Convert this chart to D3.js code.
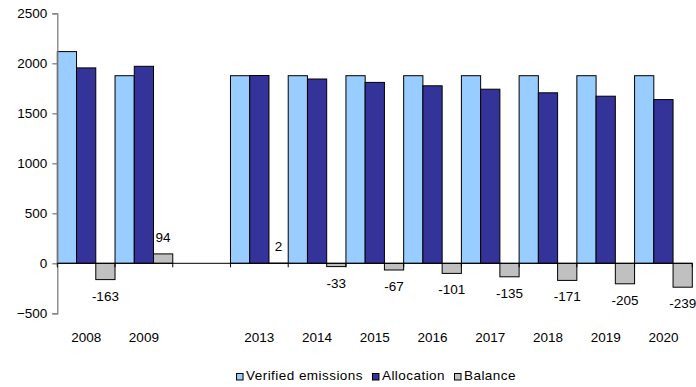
<!DOCTYPE html>
<html>
<head>
<meta charset="utf-8">
<script src="https://cdn.jsdelivr.net/npm/d3@7"></script>
<style>
  html, body { margin: 0; padding: 0; background: #fff; }
  svg { display: block; }
  text { font-family: "Liberation Sans", Arial, sans-serif; font-size: 13.5px; fill: #000; }
  .legend text { letter-spacing: 0.45px; }
</style>
</head>
<body>
<svg id="chart" width="696" height="387"></svg>
<script>
// Categories (blank slot marks the 2010-2012 gap)
const years = ["2008", "2009", "", "2013", "2014", "2015", "2016", "2017", "2018", "2019", "2020"];
const verifiedEmissions = [2117, 1876, null, 1876, 1876, 1876, 1876, 1876, 1876, 1876, 1876];
const allocation        = [1954, 1970, null, 1878, 1843, 1809, 1775, 1741, 1705, 1671, 1637];
const balance           = [-163, 94,   null, 2,    -33,  -67,  -101, -135, -171, -205, -239];
const yTicks = [-500, 0, 500, 1000, 1500, 2000, 2500];
const seriesNames = ["Verified emissions", "Allocation", "Balance"];
const seriesColors = ["#99CCFF", "#333399", "#C0C0C0"];

const svg = d3.select("#chart");
const plotLeft = 57.3, plotRight = 692.3, plotTop = 13.3, plotBottom = 313.3;

const x = d3.scaleBand().domain(years).range([plotLeft, plotRight]).paddingInner(0).paddingOuter(0);
const xs = d3.scaleBand().domain([0, 1, 2]).range([0, x.bandwidth()]).padding(0);
const y = d3.scaleLinear().domain([-500, 2500]).range([plotBottom, plotTop]);

const series = [verifiedEmissions, allocation, balance];

// Bars
const bars = svg.append("g");
series.forEach((vals, si) => {
  bars.selectAll(null)
    .data(years.map((yr, i) => ({ yr, v: vals[i] })).filter(d => d.v !== null))
    .join("rect")
    .attr("x", d => x(d.yr) + xs(si))
    .attr("width", xs.bandwidth())
    .attr("y", d => y(Math.max(0, d.v)))
    .attr("height", d => Math.abs(y(d.v) - y(0)))
    .attr("fill", seriesColors[si])
    .attr("stroke", "#000")
    .attr("stroke-width", 1);
});

// Y axis
const yAxis = svg.append("g").attr("transform", `translate(${plotLeft},0)`)
  .call(d3.axisLeft(y).tickValues(yTicks).tickSize(5).tickPadding(5).tickFormat(d3.format("d")));
yAxis.select(".domain").attr("stroke", "#808080").attr("stroke-width", 1.3);
yAxis.selectAll(".tick line").attr("stroke", "#808080").attr("stroke-width", 1.3);
yAxis.selectAll(".tick text").attr("font-size", null).attr("font-family", null).attr("fill", "#000");

// Zero line with category ticks
const xAxis = svg.append("g").attr("transform", `translate(0,${y(0)})`);
xAxis.append("line").attr("x1", plotLeft).attr("x2", plotRight).attr("stroke", "#000").attr("stroke-width", 1);
const boundaries = years.map(yr => x(yr)).concat([plotRight]);
xAxis.selectAll(".btick").data(boundaries).join("line")
  .attr("x1", d => d).attr("x2", d => d).attr("y1", 0).attr("y2", 4)
  .attr("stroke", "#000").attr("stroke-width", 1);

// Year labels
svg.append("g").selectAll("text")
  .data(years.filter(d => d !== ""))
  .join("text")
  .attr("x", d => x(d) + x.bandwidth() / 2)
  .attr("y", 341.7)
  .attr("text-anchor", "middle")
  .text(d => d);

// Balance value labels
svg.append("g").selectAll("text")
  .data(years.map((yr, i) => ({ yr, v: balance[i] })).filter(d => d.v !== null))
  .join("text")
  .attr("x", d => x(d.yr) + xs(2) + xs.bandwidth() / 2)
  .attr("y", d => d.v < 0 ? y(d.v) + 21 : y(d.v) - 12)
  .attr("text-anchor", "middle")
  .text(d => d.v);

// Legend
const legend = svg.append("g").attr("class", "legend");
let lx = 0;
seriesNames.forEach((name, i) => {
  const g = legend.append("g").attr("transform", `translate(${lx},0)`);
  g.append("rect").attr("x", 0.5).attr("y", 373.5).attr("width", 6.5).attr("height", 6.5)
    .attr("fill", seriesColors[i]).attr("stroke", "#000").attr("stroke-width", 1);
  const t = g.append("text").attr("x", 10).attr("y", 380.3).text(name);
  lx += 10 + t.node().getComputedTextLength() + 9;
});
const legendWidth = lx - 9;
legend.attr("transform", `translate(${376 - legendWidth / 2},0)`);
</script>
</body>
</html>
